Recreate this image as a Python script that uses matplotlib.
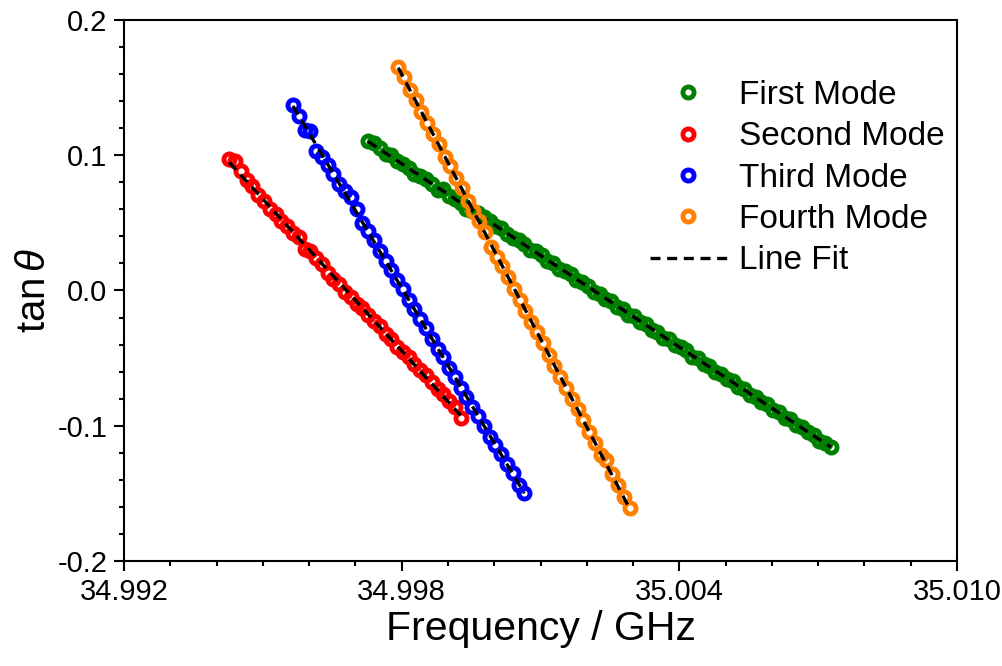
import numpy as np
import matplotlib
matplotlib.use('Agg')
import matplotlib.pyplot as plt
from matplotlib.ticker import MultipleLocator, FormatStrFormatter

matplotlib.rcParams.update({'font.family': 'Liberation Sans',
                            'mathtext.fontset': 'custom',
                            'mathtext.it': 'Liberation Sans:italic',
                            'mathtext.rm': 'Liberation Sans',
                            'axes.unicode_minus': False})

labels = ['First Mode', 'Second Mode', 'Third Mode', 'Fourth Mode']
colors = ['#008000', '#ff0000', '#0000ff', '#ff8000']

# first mode (GHz, tan theta)
f1 = [34.997275, 34.997400, 34.997525, 34.997650, 34.997775, 34.997900, 34.998025, 34.998150,
      34.998275, 34.998400, 34.998525, 34.998650, 34.998775, 34.998900, 34.999025, 34.999150,
      34.999275, 34.999400, 34.999525, 34.999650, 34.999775, 34.999900, 35.000025, 35.000150,
      35.000275, 35.000400, 35.000525, 35.000650, 35.000775, 35.000900, 35.001025, 35.001150,
      35.001275, 35.001400, 35.001525, 35.001650, 35.001775, 35.001900, 35.002025, 35.002150,
      35.002275, 35.002400, 35.002525, 35.002650, 35.002775, 35.002900, 35.003025, 35.003150,
      35.003275, 35.003400, 35.003525, 35.003650, 35.003775, 35.003900, 35.004025, 35.004150,
      35.004275, 35.004400, 35.004525, 35.004650, 35.004775, 35.004900, 35.005025, 35.005150,
      35.005275, 35.005400, 35.005525, 35.005650, 35.005775, 35.005900, 35.006025, 35.006150,
      35.006275, 35.006400, 35.006525, 35.006650, 35.006775, 35.006900, 35.007025, 35.007150,
      35.007275]
t1 = [0.1105, 0.1090, 0.1050, 0.1010, 0.1000, 0.0960, 0.0935, 0.0905, 0.0860, 0.0850,
      0.0825, 0.0785, 0.0740, 0.0750, 0.0700, 0.0680, 0.0650, 0.0600, 0.0590, 0.0575,
      0.0540, 0.0510, 0.0475, 0.0460, 0.0420, 0.0385, 0.0370, 0.0345, 0.0300, 0.0290,
      0.0260, 0.0215, 0.0200, 0.0160, 0.0145, 0.0120, 0.0075, 0.0060, 0.0030, -0.0010,
      -0.0025, -0.0065, -0.0080, -0.0120, -0.0135, -0.0180, -0.0190, -0.0235, -0.0250, -0.0290,
      -0.0305, -0.0350, -0.0360, -0.0400, -0.0420, -0.0440, -0.0490, -0.0500, -0.0545, -0.0560,
      -0.0600, -0.0615, -0.0655, -0.0670, -0.0715, -0.0725, -0.0770, -0.0785, -0.0825, -0.0840,
      -0.0885, -0.0895, -0.0940, -0.0950, -0.0995, -0.1010, -0.1050, -0.1065, -0.1110, -0.1125,
      -0.1155]

# second mode
f2 = [34.994275, 34.994400, 34.994525, 34.994650, 34.994775, 34.994900, 34.995025, 34.995150,
      34.995275, 34.995400, 34.995525, 34.995650, 34.995775, 34.995900, 34.996025, 34.996150,
      34.996275, 34.996400, 34.996525, 34.996650, 34.996775, 34.996900, 34.997025, 34.997150,
      34.997275, 34.997400, 34.997525, 34.997650, 34.997775, 34.997900, 34.998025, 34.998150,
      34.998275, 34.998400, 34.998525, 34.998650, 34.998775, 34.998900, 34.999025, 34.999150,
      34.999275]
t2 = [0.0975, 0.0955, 0.0880, 0.0815, 0.0770, 0.0705, 0.0660, 0.0600, 0.0565, 0.0510,
      0.0475, 0.0425, 0.0395, 0.0310, 0.0290, 0.0240, 0.0195, 0.0130, 0.0085, 0.0050,
      -0.0010, -0.0045, -0.0100, -0.0130, -0.0180, -0.0225, -0.0260, -0.0325, -0.0360, -0.0415,
      -0.0455, -0.0495, -0.0540, -0.0590, -0.0625, -0.0680, -0.0725, -0.0765, -0.0820, -0.0860,
      -0.0945]

# third mode
f3 = [34.995650, 34.995775, 34.995900, 34.996025, 34.996150, 34.996275, 34.996400, 34.996525,
      34.996650, 34.996775, 34.996900, 34.997025, 34.997150, 34.997275, 34.997400, 34.997525,
      34.997650, 34.997775, 34.997900, 34.998025, 34.998150, 34.998275, 34.998400, 34.998525,
      34.998650, 34.998775, 34.998900, 34.999025, 34.999150, 34.999275, 34.999400, 34.999525,
      34.999650, 34.999775, 34.999900, 35.000025, 35.000150, 35.000275, 35.000400, 35.000525,
      35.000650]
t3 = [0.1370, 0.1290, 0.1185, 0.1180, 0.1030, 0.0985, 0.0930, 0.0860, 0.0790, 0.0735,
      0.0690, 0.0600, 0.0500, 0.0440, 0.0370, 0.0290, 0.0220, 0.0150, 0.0080, 0.0010,
      -0.0070, -0.0140, -0.0210, -0.0280, -0.0360, -0.0430, -0.0490, -0.0570, -0.0640, -0.0720,
      -0.0790, -0.0860, -0.0930, -0.1000, -0.1080, -0.1140, -0.1210, -0.1280, -0.1350, -0.1440,
      -0.1500]

# fourth mode
f4 = [34.997925, 34.998050, 34.998175, 34.998300, 34.998425, 34.998550, 34.998675, 34.998800,
      34.998925, 34.999050, 34.999175, 34.999300, 34.999425, 34.999550, 34.999675, 34.999800,
      34.999925, 35.000050, 35.000175, 35.000300, 35.000425, 35.000550, 35.000675, 35.000800,
      35.000925, 35.001050, 35.001175, 35.001300, 35.001425, 35.001550, 35.001675, 35.001800,
      35.001925, 35.002050, 35.002175, 35.002300, 35.002425, 35.002550, 35.002675, 35.002800,
      35.002925]
t4 = [0.1650, 0.1580, 0.1480, 0.1410, 0.1320, 0.1240, 0.1160, 0.1080, 0.0990, 0.0920,
      0.0830, 0.0755, 0.0665, 0.0590, 0.0510, 0.0430, 0.0320, 0.0250, 0.0180, 0.0100,
      0.0010, -0.0070, -0.0150, -0.0230, -0.0310, -0.0390, -0.0475, -0.0555, -0.0640, -0.0720,
      -0.0800, -0.0880, -0.0960, -0.1050, -0.1130, -0.1220, -0.1250, -0.1360, -0.1440, -0.1530,
      -0.1610]

fig = plt.figure(figsize=(10.02, 6.66), dpi=100)
ax = fig.add_axes([0.1238, 0.1577, 0.8313, 0.8123])

handles = []
for f, t, c, lab in zip([f1, f2, f3, f4], [t1, t2, t3, t4], colors, labels):
    f = np.array(f)
    t = np.array(t)
    h, = ax.plot(f, t, 'o', mfc='none', mec=c, ms=8, mew=3.5, label=lab)
    handles.append(h)
    p = np.polyfit(f - 35.0, t, 1)
    xs = np.array([f.min(), f.max()])
    fit, = ax.plot(xs, np.polyval(p, xs - 35.0), ls=(0, (3, 2)), color='k', lw=2.4,
                   label='Line Fit')
handles.append(fit)

ax.set_xlim(34.992, 35.010)
ax.set_ylim(-0.2, 0.2)
ax.xaxis.set_major_locator(MultipleLocator(0.006))
ax.xaxis.set_minor_locator(MultipleLocator(0.001))
ax.yaxis.set_major_locator(MultipleLocator(0.1))
ax.yaxis.set_minor_locator(MultipleLocator(0.02))
ax.xaxis.set_major_formatter(FormatStrFormatter('%.3f'))
ax.yaxis.set_major_formatter(FormatStrFormatter('%.1f'))
ax.tick_params(which='both', direction='out', width=1.5, labelsize=21, top=False, right=False)
ax.tick_params(which='major', length=7, pad=5)
ax.tick_params(which='minor', length=3.5)
for s in ax.spines.values():
    s.set_linewidth(1.5)

ax.set_xlabel('Frequency / GHz', fontsize=29.5, labelpad=3)
ax.set_ylabel(r'tan$\,\theta$', fontsize=29, labelpad=3)

ax.legend(handles=handles, loc='upper left', bbox_to_anchor=(0.6487, 1 - 80 / 666),
          bbox_transform=fig.transFigure, frameon=False, fontsize=24, numpoints=1,
          borderpad=0, borderaxespad=0, labelspacing=0.31, handlelength=2.3,
          handletextpad=0.36)

plt.savefig('out.png', dpi=100)
